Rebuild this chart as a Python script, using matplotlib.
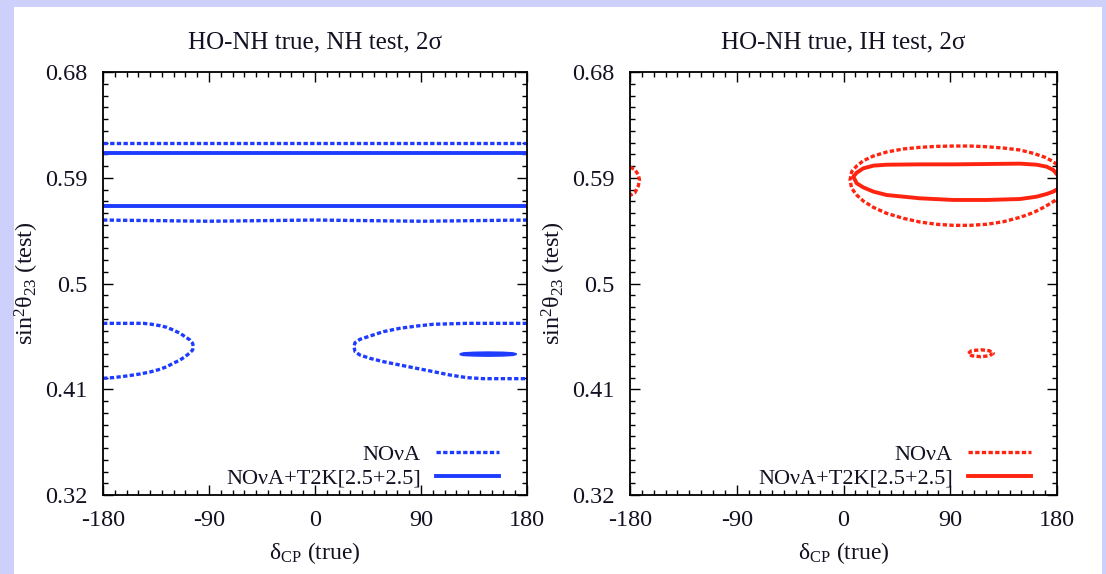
import matplotlib
matplotlib.use("Agg")
import matplotlib.pyplot as plt
from matplotlib.lines import Line2D
from matplotlib.patches import Rectangle
from matplotlib.ticker import MultipleLocator

plt.rcParams['font.family'] = ['Liberation Serif', 'DejaVu Serif']
plt.rcParams['mathtext.fontset'] = 'custom'
plt.rcParams['mathtext.rm'] = 'Liberation Serif'
plt.rcParams['mathtext.it'] = 'Liberation Serif:italic'

# ---------------- data ----------------
titles = ["HO-NH true, NH test, 2σ", "HO-NH true, IH test, 2σ"]
x_ticks = [-180, -90, 0, 90, 180]
y_ticks = [0.32, 0.41, 0.5, 0.59, 0.68]
legend_labels = ["NOνA", "NOνA+T2K[2.5+2.5]"]

# Left panel (NH test) -- NOvA (dotted)
nh_nova_band_x = [-180, -90, 0, 90, 180]
nh_nova_band_hi = [0.620, 0.620, 0.620, 0.620, 0.620]
nh_nova_band_lo = [0.554, 0.553, 0.554, 0.553, 0.554]
nh_nova_left_x = [-180, -145.8, -140.1, -131.6, -125.9, -120.3, -114.6, -110.4, -106.1, -103.9,
                  -103.3, -103.9, -106.7, -110.4, -114.6, -120.3, -125.9, -131.6, -140.1,
                  -148.6, -159.9, -171.2, -180]
nh_nova_left_y = [0.4661, 0.4661, 0.4655, 0.4641, 0.4627, 0.4604, 0.4576, 0.4548, 0.4519, 0.4491,
                  0.4463, 0.4434, 0.4406, 0.4377, 0.4349, 0.4321, 0.4292, 0.4270, 0.4247,
                  0.4230, 0.4213, 0.4199, 0.4193]
nh_nova_right_x = [180, 128.8, 100.5, 86.3, 72.2, 58.0, 46.7, 38.2, 34.0, 33.1, 34.0, 38.2,
                   46.7, 58.0, 72.2, 86.3, 100.5, 114.6, 128.8, 142.9, 180]
nh_nova_right_y = [0.4661, 0.4661, 0.4653, 0.4638, 0.4619, 0.4590, 0.4553, 0.4525, 0.4497,
                   0.4463, 0.4420, 0.4391, 0.4363, 0.4335, 0.4306, 0.4278, 0.4250, 0.4221,
                   0.4199, 0.4190, 0.4190]
# Left panel -- NOvA+T2K (solid)
nh_comb_band_x = [-180, -90, 0, 90, 180]
nh_comb_band_hi = [0.611, 0.611, 0.611, 0.611, 0.611]
nh_comb_band_lo = [0.566, 0.566, 0.566, 0.566, 0.566]
nh_comb_island_x = [123, 126, 135, 147, 160, 168, 171, 168, 160, 147, 135, 126, 123]
nh_comb_island_y = [0.4398, 0.4407, 0.4412, 0.4414, 0.4412, 0.4407, 0.4399, 0.4391, 0.4386,
                    0.4384, 0.4386, 0.4390, 0.4398]

# Right panel (IH test) -- NOvA (dotted)
ih_nova_main_x = [180, 176.9, 169.9, 160.0, 148.8, 134.8, 120.7, 106.6, 92.6, 78.5, 64.5,
                  50.4, 36.4, 25.2, 16.7, 11.1, 6.9, 5.5,
                  6.9, 11.1, 16.7, 25.2, 36.4, 50.4, 64.5, 78.5, 92.6, 106.6, 120.7,
                  134.8, 148.8, 160.0, 169.9, 176.9, 180]
ih_nova_main_y = [0.6010, 0.6037, 0.6074, 0.6108, 0.6136, 0.6153, 0.6164, 0.6170, 0.6170,
                  0.6167, 0.6159, 0.6145, 0.6119, 0.6085, 0.6045, 0.6000, 0.5952, 0.5881,
                  0.5810, 0.5753, 0.5702, 0.5648, 0.5597, 0.5555, 0.5523, 0.5504, 0.5495,
                  0.5495, 0.5504, 0.5526, 0.5563, 0.5603, 0.5654, 0.5697, 0.5720]
ih_nova_edge_x = [-180, -176, -173, -172, -173, -176, -180]
ih_nova_edge_y = [0.5990, 0.5970, 0.5925, 0.5880, 0.5830, 0.5770, 0.5750]
ih_nova_island_x = [105.2, 108, 115.8, 123, 126.3, 123, 115.8, 108, 105.2]
ih_nova_island_y = [0.4406, 0.4428, 0.4436, 0.4428, 0.4406, 0.4385, 0.4377, 0.4385, 0.4406]
# Right panel -- NOvA+T2K (solid)
ih_comb_main_x = [180, 176.9, 171.3, 162.9, 148.8, 120.7, 92.6, 64.5, 36.4, 25.2, 16.7, 11.1,
                  8.3, 11.1, 16.7, 25.2, 36.4, 64.5, 92.6, 120.7, 148.8, 162.9, 171.3,
                  176.9, 180]
ih_comb_main_y = [0.5929, 0.5966, 0.5994, 0.6011, 0.6020, 0.6017, 0.6014, 0.6014, 0.6011,
                  0.6003, 0.5980, 0.5943, 0.5909, 0.5853, 0.5818, 0.5782, 0.5753, 0.5725,
                  0.5711, 0.5711, 0.5719, 0.5739, 0.5762, 0.5782, 0.5801]

# ---------------- style ----------------
BLUE = '#1e3cff'
RED = '#ff2410'
TXT = '#111122'
LW_DOT = 2.4
LW_SOL = 2.8
DOT = (0, (1.3, 0.7))
FS = 17.5

fig = plt.figure(figsize=(11.06, 5.74), dpi=100)
fig.patch.set_facecolor('#cdd0fa')
fig.add_artist(Rectangle((14 / 1106, 0), (1102 - 14) / 1106, 1 - 7 / 574,
                         transform=fig.transFigure, facecolor='white',
                         edgecolor='none', zorder=0))

ax1 = fig.add_axes([103 / 1106, 1 - 495 / 574, 424 / 1106, 423 / 574])
ax2 = fig.add_axes([630 / 1106, 1 - 495 / 574, 427 / 1106, 423 / 574])

for ax, title in zip([ax1, ax2], titles):
    ax.set_xlim(-180, 180)
    ax.set_ylim(0.32, 0.68)
    ax.set_xticks(x_ticks)
    ax.set_yticks(y_ticks)
    ax.set_xticklabels([str(v) for v in x_ticks])
    ax.set_yticklabels([f"{v:g}" for v in y_ticks])
    ax.xaxis.set_minor_locator(MultipleLocator(10))
    ax.yaxis.set_minor_locator(MultipleLocator(0.01))
    ax.tick_params(which='both', direction='in', top=True, right=True,
                   labelsize=FS, labelcolor=TXT, width=1.0, color='black')
    ax.tick_params(axis='x', which='major', length=7, pad=11)
    ax.tick_params(axis='y', which='major', length=7, pad=11)
    ax.tick_params(which='minor', length=3.5)
    for s in ax.spines.values():
        s.set_linewidth(1.3)
    ax.set_title(title, fontsize=18, color=TXT, pad=17)
    ax.set_xlabel(r'δ$_{\mathrm{CP}}$ (true)', fontsize=17, color=TXT, labelpad=6)
    ax.set_ylabel(r'sin$^{\mathrm{2}}$θ$_{\mathrm{23}}$ (test)', fontsize=FS,
                  color=TXT, labelpad=3)

# Left panel
kw_dot_b = dict(color=BLUE, lw=LW_DOT, linestyle=DOT, dash_capstyle='butt')
kw_sol_b = dict(color=BLUE, lw=LW_SOL, linestyle='-')
ax1.plot(nh_nova_band_x, nh_nova_band_hi, **kw_dot_b)
ax1.plot(nh_nova_band_x, nh_nova_band_lo, **kw_dot_b)
ax1.plot(nh_nova_left_x, nh_nova_left_y, **kw_dot_b)
ax1.plot(nh_nova_right_x, nh_nova_right_y, **kw_dot_b)
ax1.plot(nh_comb_band_x, nh_comb_band_hi, **kw_sol_b)
ax1.plot(nh_comb_band_x, nh_comb_band_lo, **kw_sol_b)
ax1.fill(nh_comb_island_x, nh_comb_island_y, color=BLUE, lw=1.5)

# Right panel
kw_dot_r = dict(color=RED, lw=LW_DOT, linestyle=DOT, dash_capstyle='butt')
kw_sol_r = dict(color=RED, lw=LW_SOL, linestyle='-')
ax2.plot(ih_nova_main_x, ih_nova_main_y, **kw_dot_r)
ax2.plot(ih_nova_edge_x, ih_nova_edge_y, **kw_dot_r)
ax2.plot(ih_nova_island_x, ih_nova_island_y, **kw_dot_r)
ax2.plot(ih_comb_main_x, ih_comb_main_y, **kw_sol_r)

# Legends
for ax, col, xr in [(ax1, BLUE, 0.935), (ax2, RED, 0.940)]:
    handles = [Line2D([], [], color=col, lw=LW_DOT, linestyle=DOT),
               Line2D([], [], color=col, lw=LW_SOL, linestyle='-')]
    leg = ax.legend(handles, legend_labels, loc='lower right',
                    bbox_to_anchor=(xr, 0.015), frameon=False, markerfirst=False,
                    fontsize=16, handlelength=2.85, handletextpad=0.68,
                    labelspacing=0.15, borderpad=0, borderaxespad=0)
    for t in leg.get_texts():
        t.set_color(TXT)

fig.savefig('out.png', dpi=100, facecolor=fig.get_facecolor())
